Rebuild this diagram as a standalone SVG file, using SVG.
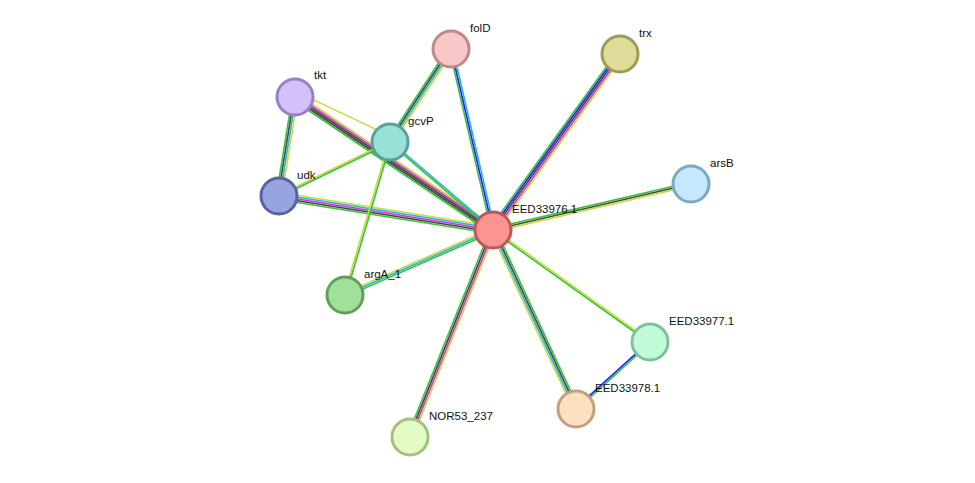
<svg xmlns="http://www.w3.org/2000/svg" width="975" height="483" viewBox="0 0 975 483">
<style>
line{stroke-width:1.6}
.g{stroke:#38c238}.b{stroke:#2020ff}.c{stroke:#28b4dc}.k{stroke:#444}.m{stroke:#d634d6}.y{stroke:#c6dc3a}
circle{stroke-width:3}
text{font-family:"Liberation Sans",Arial,sans-serif;font-size:11.5px;fill:#111}
</style>
<rect width="975" height="483" fill="#fff"/>
<g id="edges">
<g transform="translate(493,230) rotate(-103.06)"><line x2="185.8" y1="-1.8" y2="-1.8" class="g"/><line x2="185.8" class="b"/><line x2="185.8" y1="1.8" y2="1.8" class="c"/></g>
<g transform="translate(493,230) rotate(-54.19)"><line x2="217" y1="-3.6" y2="-3.6" class="g"/><line x2="217" y1="-1.8" y2="-1.8" class="b"/><line x2="217" class="k"/><line x2="217" y1="1.8" y2="1.8" class="m"/><line x2="217" y1="3.6" y2="3.6" class="y"/></g>
<g transform="translate(493,230) rotate(-13.08)"><line x2="203.3" y1="-1.8" y2="-1.8" class="g"/><line x2="203.3" class="k"/><line x2="203.3" y1="1.8" y2="1.8" class="y"/></g>
<g transform="translate(493,230) rotate(35.5)"><line x2="192.9" y1="-0.9" y2="-0.9" class="y"/><line x2="192.9" y1="0.9" y2="0.9" class="g"/></g>
<g transform="translate(493,230) rotate(65.12)"><line x2="197.3" y1="2.7" y2="2.7" class="y"/><line x2="197.3" y1="0.9" y2="0.9" class="c"/><line x2="197.3" y1="-0.9" y2="-0.9" class="k"/><line x2="197.3" y1="-2.7" y2="-2.7" class="g"/></g>
<g transform="translate(493,230) rotate(111.85)"><line x2="223" y1="-2.7" y2="-2.7" class="y"/><line x2="223" y1="-0.9" y2="-0.9" class="m"/><line x2="223" y1="0.9" y2="0.9" class="k"/><line x2="223" y1="2.7" y2="2.7" class="g"/></g>
<g transform="translate(493,230) rotate(156.29)"><line x2="161.6" y1="1.8" y2="1.8" class="y"/><line x2="161.6" class="c"/><line x2="161.6" y1="-1.8" y2="-1.8" class="g"/></g>
<g transform="translate(493,230) rotate(-170.97)"><line x2="216.7" y1="3.6" y2="3.6" class="y"/><line x2="216.7" y1="1.8" y2="1.8" class="c"/><line x2="216.7" class="m"/><line x2="216.7" y1="-1.8" y2="-1.8" class="k"/><line x2="216.7" y1="-3.6" y2="-3.6" class="g"/></g>
<g transform="translate(493,230) rotate(-146.11)"><line x2="238.5" y1="3.6" y2="3.6" class="y"/><line x2="238.5" y1="1.8" y2="1.8" class="m"/><line x2="238.5" class="k"/><line x2="238.5" y1="-1.8" y2="-1.8" class="k"/><line x2="238.5" y1="-3.6" y2="-3.6" class="g"/></g>
<g transform="translate(493,230) rotate(-139.49)"><line x2="135.5" y1="0.9" y2="0.9" class="c"/><line x2="135.5" y1="-0.9" y2="-0.9" class="g"/></g>
<g transform="translate(295,97) rotate(99.18)"><line x2="100.3" y1="2.7" y2="2.7" class="g"/><line x2="100.3" y1="0.9" y2="0.9" class="k"/><line x2="100.3" y1="-0.9" y2="-0.9" class="c"/><line x2="100.3" y1="-2.7" y2="-2.7" class="y"/></g>
<g transform="translate(295,97) rotate(25.35)"><line x2="105.1" y1="-5.4" y2="-5.4" class="y"/></g>
<g transform="translate(390,142) rotate(-56.74)"><line x2="111.2" y1="-2.7" y2="-2.7" class="g"/><line x2="111.2" y1="-0.9" y2="-0.9" class="k"/><line x2="111.2" y1="0.9" y2="0.9" class="c"/><line x2="111.2" y1="2.7" y2="2.7" class="y"/></g>
<g transform="translate(390,142) rotate(154.06)"><line x2="123.4" y1="0.9" y2="0.9" class="y"/><line x2="123.4" y1="-0.9" y2="-0.9" class="g"/></g>
<g transform="translate(390,142) rotate(106.39)"><line x2="159.5" y1="0.9" y2="0.9" class="y"/><line x2="159.5" y1="-0.9" y2="-0.9" class="g"/></g>
<g transform="translate(650,342) rotate(137.84)"><line x2="99.8" y1="0.9" y2="0.9" class="b"/><line x2="99.8" y1="-0.9" y2="-0.9" class="g"/></g>
</g>
<g id="folD"><circle cx="451" cy="49" r="18" fill="#f8c8c8" stroke="#c08888"/><text x="470" y="32">folD</text></g>
<g id="trx"><circle cx="620" cy="54" r="18" fill="#dedc98" stroke="#9e9a58"/><text x="639" y="37">trx</text></g>
<g id="tkt"><circle cx="295" cy="97" r="18" fill="#d4c0fc" stroke="#9880c8"/><text x="314" y="79">tkt</text></g>
<g id="gcvP"><circle cx="390" cy="142" r="18" fill="#98e0d8" stroke="#58a098"/><text x="408" y="125">gcvP</text></g>
<g id="udk"><circle cx="279" cy="196" r="18" fill="#98a4e0" stroke="#5864a0"/><text x="297" y="179">udk</text></g>
<g id="arsB"><circle cx="691" cy="184" r="18" fill="#c4e8fc" stroke="#7ca8c8"/><text x="710" y="167">arsB</text></g>
<g id="EED33976.1"><circle cx="493" cy="230" r="18" fill="#fc9494" stroke="#c05858"/><text x="512" y="213">EED33976.1</text></g>
<g id="argA_1"><circle cx="345" cy="295" r="18" fill="#a0e098" stroke="#60a058"/><text x="364" y="278">argA_1</text></g>
<g id="EED33977.1"><circle cx="650" cy="342" r="18" fill="#c0fcd8" stroke="#80c09c"/><text x="669" y="325">EED33977.1</text></g>
<g id="EED33978.1"><circle cx="576" cy="409" r="18" fill="#fce0c0" stroke="#c0a080"/><text x="595" y="392">EED33978.1</text></g>
<g id="NOR53_237"><circle cx="410" cy="437" r="18" fill="#e4fcc4" stroke="#a4c080"/><text x="429" y="420">NOR53_237</text></g>
</svg>
